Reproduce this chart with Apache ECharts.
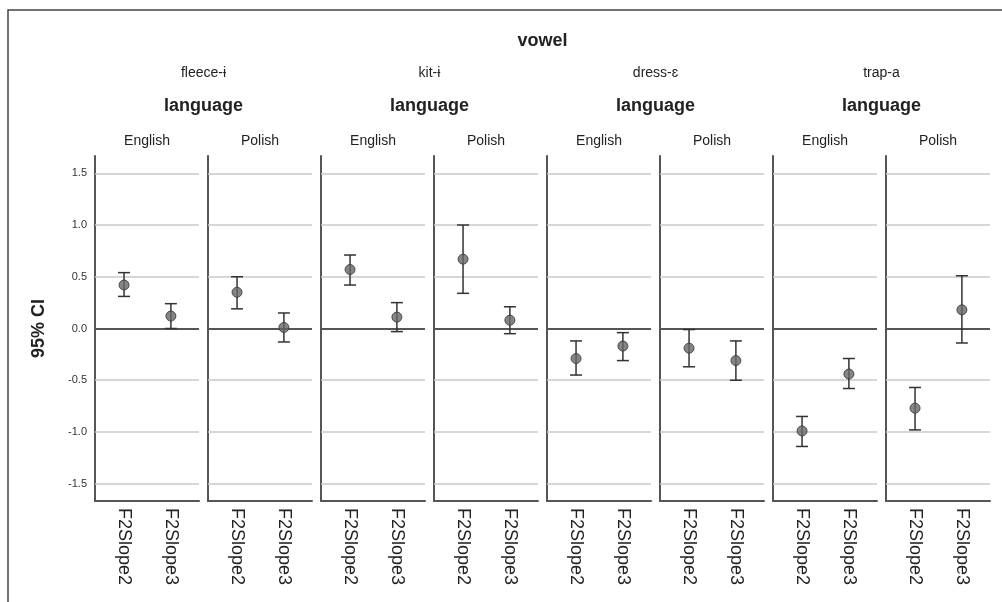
<!DOCTYPE html>
<html>
<head>
<meta charset="utf-8">
<script src="https://cdn.jsdelivr.net/npm/echarts@6/dist/echarts.min.js"></script>
<style>
  html, body { margin: 0; padding: 0; background: #fff; }
  #chart { width: 1002px; height: 602px; }
</style>
</head>
<body>
<div id="chart"></div>
<script>
// Facet labels
const vowels = ['fleece-ɨ', 'kit-ɨ', 'dress-ɛ', 'trap-a'];
const languages = ['English', 'Polish'];
const measures = ['F2Slope2', 'F2Slope3'];
const yTicks = [-1.5, -1.0, -0.5, 0.0, 0.5, 1.0, 1.5];

// One row per panel (vowel x language), each row = [F2Slope2, F2Slope3]
const means = [
  [0.42, 0.12], [0.35, 0.01],
  [0.57, 0.11], [0.67, 0.08],
  [-0.29, -0.17], [-0.19, -0.31],
  [-0.99, -0.44], [-0.77, 0.18]
];
const lower = [
  [0.31, 0.00], [0.19, -0.13],
  [0.42, -0.03], [0.34, -0.05],
  [-0.45, -0.31], [-0.37, -0.50],
  [-1.14, -0.58], [-0.98, -0.14]
];
const upper = [
  [0.54, 0.24], [0.50, 0.15],
  [0.71, 0.25], [1.00, 0.21],
  [-0.12, -0.04], [-0.01, -0.12],
  [-0.85, -0.29], [-0.57, 0.51]
];

// Panel geometry
const FIRST_LEFT = 95, PITCH = 113, PANEL_W = 104, TOP = 156, PANEL_H = 345;
const Y_MIN = -1.667, Y_MAX = 1.667;
// Measures sit at positions 0 and 1 on a padded x scale
const X_MIN = -0.62, X_MAX = 1.6;
const FONT = 'Liberation Sans, Arial, sans-serif';
const TEXT = '#222';

const nPanels = vowels.length * languages.length;
const grids = [], xAxes = [], yAxes = [], series = [], graphics = [];
const measureIdx = measures.map((m, i) => i);

for (let p = 0; p < nPanels; p++) {
  const left = FIRST_LEFT + p * PITCH;
  grids.push({ left: left, top: TOP, width: PANEL_W, height: PANEL_H });
  xAxes.push({
    type: 'value', gridIndex: p, min: X_MIN, max: X_MAX,
    axisLine: { show: true, onZero: false, lineStyle: { color: '#555', width: 2 } },
    axisTick: { show: false },
    axisLabel: {
      customValues: measureIdx, rotate: -90, margin: 7, fontSize: 18, color: TEXT,
      fontFamily: FONT, formatter: v => measures[Math.round(v)]
    },
    splitLine: { show: false }
  });
  yAxes.push({
    type: 'value', gridIndex: p, min: Y_MIN, max: Y_MAX,
    name: p === 0 ? '95% CI' : '',
    nameLocation: 'middle', nameGap: 47,
    nameTextStyle: { fontSize: 18, fontWeight: 'bold', color: TEXT, fontFamily: FONT },
    axisLine: { show: true, onZero: false, lineStyle: { color: '#555', width: 2 } },
    axisTick: { show: false },
    axisLabel: {
      show: p === 0, customValues: yTicks, margin: 8, fontSize: 11, color: '#333',
      fontFamily: FONT, formatter: v => v.toFixed(1)
    },
    splitLine: { show: false }
  });

  // Reference lines at each tick value; zero drawn darker
  series.push({
    type: 'line', xAxisIndex: p, yAxisIndex: p, data: [], z: 1, silent: true,
    markLine: {
      silent: true, symbol: 'none', animation: false, z: 1,
      label: { show: false },
      data: yTicks.map(v => ({
        yAxis: v,
        lineStyle: v === 0
          ? { color: '#555', width: 2, type: 'solid' }
          : { color: '#c9c9c9', width: 1.5, type: 'solid' }
      }))
    }
  });

  // Confidence interval whiskers
  series.push({
    type: 'custom', xAxisIndex: p, yAxisIndex: p, z: 8, silent: true,
    data: measureIdx.map(i => [i, lower[p][i], upper[p][i]]),
    renderItem: function (params, api) {
      const top = api.coord([api.value(0), api.value(2)]);
      const bot = api.coord([api.value(0), api.value(1)]);
      const cap = 6;
      const style = { stroke: '#333', lineWidth: 1.5 };
      return {
        type: 'group',
        children: [
          { type: 'line', shape: { x1: top[0], y1: top[1], x2: bot[0], y2: bot[1] }, style: style },
          { type: 'line', shape: { x1: top[0] - cap, y1: top[1], x2: top[0] + cap, y2: top[1] }, style: style },
          { type: 'line', shape: { x1: bot[0] - cap, y1: bot[1], x2: bot[0] + cap, y2: bot[1] }, style: style }
        ]
      };
    }
  });

  // Means
  series.push({
    type: 'scatter', xAxisIndex: p, yAxisIndex: p, z: 9, silent: true,
    symbol: 'circle', symbolSize: 10,
    itemStyle: { color: '#666', borderColor: '#333', borderWidth: 1 },
    data: measureIdx.map(i => [i, means[p][i]])
  });

  // Language header over each panel
  graphics.push({
    type: 'text', x: left + PANEL_W / 2, y: 141,
    style: { text: languages[p % languages.length], fontSize: 14, fontFamily: FONT,
             fill: TEXT, align: 'center', verticalAlign: 'middle' }
  });
}

// Vowel headers spanning two panels each
vowels.forEach((v, k) => {
  const l = FIRST_LEFT + 2 * k * PITCH;
  const cx = (l + l + PITCH + PANEL_W) / 2;
  graphics.push({
    type: 'text', x: cx, y: 73,
    style: { text: v, fontSize: 14, fontFamily: FONT, fill: TEXT, align: 'center', verticalAlign: 'middle' }
  });
  graphics.push({
    type: 'text', x: cx, y: 106,
    style: { text: 'language', fontSize: 18, fontWeight: 'bold', fontFamily: FONT, fill: TEXT,
             align: 'center', verticalAlign: 'middle' }
  });
});

// Top title and outer frame
const allCenter = (FIRST_LEFT + FIRST_LEFT + (nPanels - 1) * PITCH + PANEL_W) / 2;
graphics.push({
  type: 'text', x: allCenter, y: 41,
  style: { text: 'vowel', fontSize: 18, fontWeight: 'bold', fontFamily: FONT, fill: TEXT,
           align: 'center', verticalAlign: 'middle' }
});
graphics.push({
  type: 'rect', shape: { x: 8, y: 10, width: 1100, height: 700 },
  style: { fill: 'none', stroke: '#444', lineWidth: 1.5 }, silent: true
});

const chart = echarts.init(document.getElementById('chart'), null, { renderer: 'canvas' });
chart.setOption({
  animation: false,
  backgroundColor: '#fff',
  grid: grids,
  xAxis: xAxes,
  yAxis: yAxes,
  series: series,
  graphic: graphics
});
</script>
</body>
</html>
